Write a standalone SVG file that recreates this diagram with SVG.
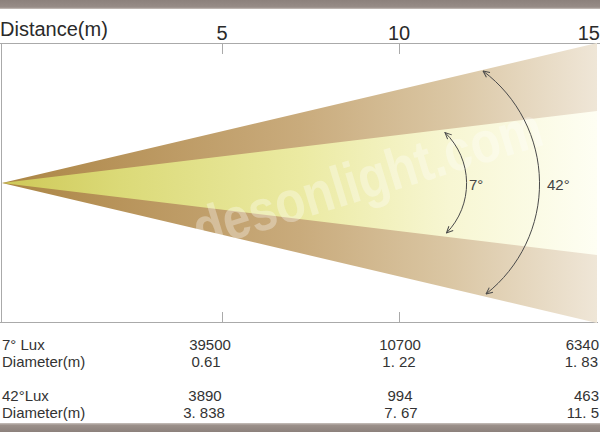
<svg xmlns="http://www.w3.org/2000/svg" width="600" height="432" viewBox="0 0 600 432">
<style>
.t{font-family:"Liberation Sans",Arial,sans-serif;fill:#2a2a2a}
.ax{font-size:20px}
.tb{font-size:15px;fill:#333}
.frame{stroke:#aaaaaa;stroke-width:1;fill:none}
.arc{stroke:#4a4a4a;stroke-width:1;fill:none;marker-start:url(#ah);marker-end:url(#ah)}
.ang{font-size:15px;fill:#444}
</style>
<defs>
<linearGradient id="gOuter" gradientUnits="userSpaceOnUse" x1="2" y1="0" x2="597" y2="0">
<stop offset="0" stop-color="#ab8544"/>
<stop offset="0.2" stop-color="#b8945b"/>
<stop offset="0.5" stop-color="#c9ab7c"/>
<stop offset="0.75" stop-color="#dac6a3"/>
<stop offset="1" stop-color="#efe6d7"/>
</linearGradient>
<linearGradient id="gInner" gradientUnits="userSpaceOnUse" x1="2" y1="0" x2="597" y2="0">
<stop offset="0" stop-color="#cec857"/>
<stop offset="0.2" stop-color="#dbda78"/>
<stop offset="0.5" stop-color="#ebeaa2"/>
<stop offset="0.75" stop-color="#f7f6d2"/>
<stop offset="1" stop-color="#fefef3"/>
</linearGradient>
<linearGradient id="gTop" x1="0" y1="0" x2="0" y2="1">
<stop offset="0" stop-color="#8c817c"/>
<stop offset="0.8" stop-color="#978c87"/>
<stop offset="1" stop-color="#c9c2be"/>
</linearGradient>
<linearGradient id="gBot" x1="0" y1="0" x2="0" y2="1">
<stop offset="0" stop-color="#c9c2be"/>
<stop offset="0.25" stop-color="#9b908a"/>
<stop offset="1" stop-color="#8c817c"/>
</linearGradient>
<marker id="ah" viewBox="0 0 8 8" refX="7.5" refY="4" markerWidth="8" markerHeight="8" markerUnits="userSpaceOnUse" orient="auto-start-reverse">
<path d="M1,1 L7.5,4 L1,7" fill="none" stroke="#4a4a4a" stroke-width="1"/>
</marker>
</defs>
<rect width="600" height="432" fill="#ffffff"/>
<g id="bars">
<rect x="0" y="0" width="600" height="9" fill="url(#gTop)"/>
<rect x="0" y="423" width="600" height="9" fill="url(#gBot)"/>
</g>
<g id="frame">
<line class="frame" x1="0" y1="43.5" x2="600" y2="43.5"/>
<line class="frame" x1="0" y1="322.5" x2="598" y2="322.5"/>
<line class="frame" x1="1.5" y1="43" x2="1.5" y2="323"/>
<line class="frame" x1="222.5" y1="43" x2="222.5" y2="54"/>
<line class="frame" x1="399.5" y1="43" x2="399.5" y2="54"/>
<line class="frame" x1="222.5" y1="312" x2="222.5" y2="323"/>
<line class="frame" x1="399.5" y1="312" x2="399.5" y2="323"/>
</g>
<g id="beam42">
<polygon points="2,183 597,43 597,323" fill="url(#gOuter)"/>
</g>
<g id="beam7">
<polygon points="2,183 597,111 597,255" fill="url(#gInner)"/>
</g>
<g id="watermark">
<text x="200" y="250" transform="rotate(-17 200 250)" font-family="'Liberation Sans',Arial,sans-serif" font-weight="bold" font-size="58" fill="#ffffff" fill-opacity="0.32" textLength="362" lengthAdjust="spacingAndGlyphs">desonlight.com</text>
</g>
<g id="connectors">
<path class="arc" d="M445,132.5 A71 71 0 0 1 446.5,233"/>
<path class="arc" d="M483,71 A140.5 140.5 0 0 1 486,294"/>
</g>
<g id="angle-labels">
<text class="t ang" x="469" y="190">7°</text>
<text class="t ang" x="547" y="190">42°</text>
</g>
<g id="axis">
<text class="t ax" x="0" y="36" font-size="21">Distance(m)</text>
<text class="t ax" x="222" y="40" text-anchor="middle">5</text>
<text class="t ax" x="399" y="40" text-anchor="middle">10</text>
<text class="t ax" x="600" y="40" text-anchor="end">15</text>
</g>
<g id="table">
<text class="t tb" x="2" y="350">7° Lux</text>
<text class="t tb" x="2" y="367">Diameter(m)</text>
<text class="t tb" x="2" y="401">42°Lux</text>
<text class="t tb" x="2" y="418">Diameter(m)</text>
<text class="t tb" x="210" y="350" text-anchor="middle">39500</text>
<text class="t tb" x="206" y="367" text-anchor="middle">0.61</text>
<text class="t tb" x="205" y="401" text-anchor="middle">3890</text>
<text class="t tb" x="204" y="418" text-anchor="middle">3. 838</text>
<text class="t tb" x="400" y="350" text-anchor="middle">10700</text>
<text class="t tb" x="399" y="367" text-anchor="middle">1. 22</text>
<text class="t tb" x="400" y="401" text-anchor="middle">994</text>
<text class="t tb" x="401" y="418" text-anchor="middle">7. 67</text>
<text class="t tb" x="599" y="350" text-anchor="end">6340</text>
<text class="t tb" x="598" y="367" text-anchor="end">1. 83</text>
<text class="t tb" x="599" y="401" text-anchor="end">463</text>
<text class="t tb" x="599" y="418" text-anchor="end">11. 5</text>
</g>
</svg>
